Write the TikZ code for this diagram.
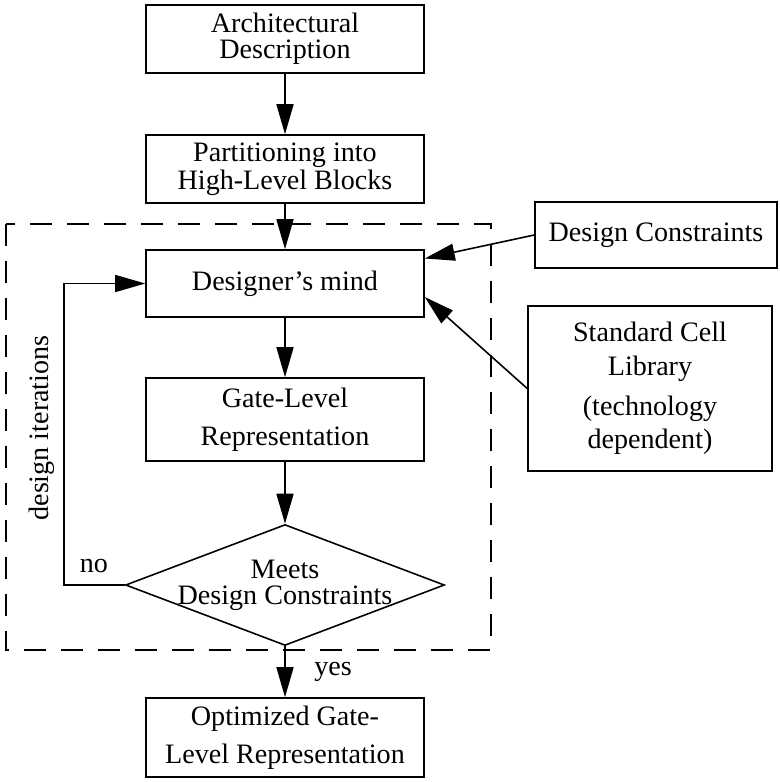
\documentclass[tikz,border=0pt]{standalone}
\usepackage{fontspec}
\setmainfont{Liberation Serif}
\usetikzlibrary{arrows.meta,shapes.geometric}

\begin{document}
\begin{tikzpicture}[x=0.02cm, y=-0.02cm, line width=0.9pt,
  txt/.style={font=\fontsize{16}{15}\selectfont},
  box/.style={draw, txt, align=center, inner sep=0pt, minimum width=5.56cm},
  flow/.style={-{Triangle[length=0.6cm, width=0.34cm]}}]
\useasboundingbox (0,0) rectangle (779,782);
\draw[dash pattern=on 0.44cm off 0.3cm] (6,224) rectangle (491,650);
\node[box, minimum height=1.36cm] (arch) at (285,39) {Architectural\\Description};
\node[box, minimum height=1.36cm] (part) at (285,169) {Partitioning into\\[1pt]High-Level Blocks};
\node[box, minimum height=1.34cm] (mind) at (285,283.5) {Designer’s mind};
\node[box, minimum height=1.66cm] (gate) at (285,419.5) {Gate-Level\\[6.5pt]Representation};
\node[draw, diamond, inner sep=0pt, minimum width=6.38cm, minimum height=2.42cm,
  label={[txt, align=center]center:Meets\\Design Constraints}] (meets) at (285,585) {};
\node[box, minimum height=1.58cm] (opt) at (285,737.5) {Optimized Gate-\\[6.5pt]Level Representation};
\node[box, minimum width=4.84cm, minimum height=1.32cm] (dc) at (656,235) {Design Constraints};
\node[box, minimum width=4.88cm, minimum height=3.3cm,
  font=\fontsize{16}{19}\selectfont] (lib) at (650,388.5)
  {Standard Cell\\Library\\[4pt](technology\\dependent)};
\coordinate (loop) at (64,420);
\draw[flow] (arch) -- (part);
\draw[flow] (part) -- (mind);
\draw[flow] (mind) -- (gate);
\draw[flow] (gate) -- (meets);
\draw[flow] (meets) -- (opt);
\draw[flow] (meets.west) -| (loop) |- (mind.west);
\draw[flow] (dc.west) -- ([yshift=0.5cm]mind.east);
\draw[flow] (lib.west) -- ([yshift=-0.27cm]mind.east);
\node[txt] (no) at (94,566) {no};
\node[txt] (yes) at (333,672) {yes};
\node[txt, rotate=90] (iter) at (42,428) {design iterations};
\end{tikzpicture}
\end{document}
